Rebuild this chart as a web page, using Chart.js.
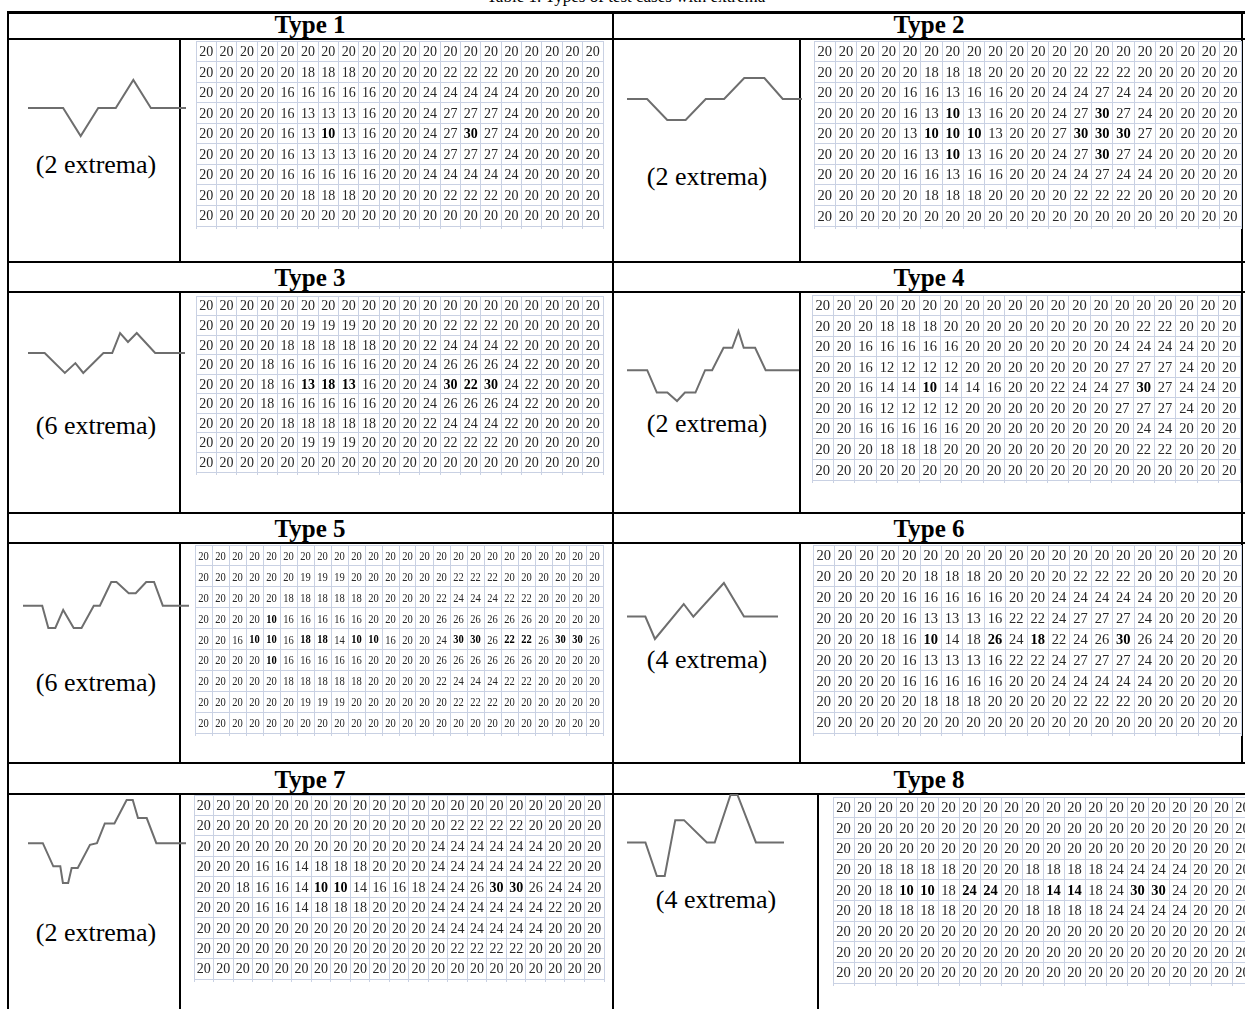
<!DOCTYPE html>
<html>
<head>
<meta charset="utf-8">
<title>Types of test cases</title>
<script src="https://cdn.jsdelivr.net/npm/chart.js@4.4.1/dist/chart.umd.min.js"></script>
<style>
    html, body { margin: 0; padding: 0; background: #fff; }
    body { position: relative; width: 1245px; height: 1009px; overflow: hidden; font-family: "Liberation Serif", "Times New Roman", serif; color: #000; }
    .rule { position: absolute; background: #000; }
    .box { position: absolute; }
    .box canvas { position: absolute; left: 0; top: 0; }
    .head { position: absolute; font-weight: bold; font-size: 25px; line-height: 28px; white-space: nowrap; transform: translate(-50%, -50%); }
    .extrema { position: absolute; font-size: 26px; line-height: 30px; white-space: nowrap; transform: translate(-50%, -50%); }
    .caption { position: absolute; top: -13px; left: 626px; font-size: 17px; white-space: nowrap; transform: translateX(-50%); }
</style>
</head>
<body>
<div class="caption">Table 1. Types of test cases with extrema</div>
<script>
const SERIF = '"Liberation Serif", "Times New Roman", serif';
const GRID = "#c9d1e3";

const typeNames = ["Type 1", "Type 2", "Type 3", "Type 4", "Type 5", "Type 6", "Type 7", "Type 8"];
const extremaLabels = ["(2 extrema)", "(2 extrema)", "(6 extrema)", "(2 extrema)", "(6 extrema)", "(4 extrema)", "(2 extrema)", "(4 extrema)"];

// Type 1
const t1r0 = [20, 20, 20, 20, 20, 20, 20, 20, 20, 20, 20, 20, 20, 20, 20, 20, 20, 20, 20, 20];
const t1r1 = [20, 20, 20, 20, 20, 18, 18, 18, 20, 20, 20, 20, 22, 22, 22, 20, 20, 20, 20, 20];
const t1r2 = [20, 20, 20, 20, 16, 16, 16, 16, 16, 20, 20, 24, 24, 24, 24, 24, 20, 20, 20, 20];
const t1r3 = [20, 20, 20, 20, 16, 13, 13, 13, 16, 20, 20, 24, 27, 27, 27, 24, 20, 20, 20, 20];
const t1r4 = [20, 20, 20, 20, 16, 13, 10, 13, 16, 20, 20, 24, 27, 30, 27, 24, 20, 20, 20, 20];
const bold1 = [[4, 6], [4, 13]];

// Type 2
const t2r0 = [20, 20, 20, 20, 20, 20, 20, 20, 20, 20, 20, 20, 20, 20, 20, 20, 20, 20, 20, 20];
const t2r1 = [20, 20, 20, 20, 20, 18, 18, 18, 20, 20, 20, 20, 22, 22, 22, 20, 20, 20, 20, 20];
const t2r2 = [20, 20, 20, 20, 16, 16, 13, 16, 16, 20, 20, 24, 24, 27, 24, 24, 20, 20, 20, 20];
const t2r3 = [20, 20, 20, 20, 16, 13, 10, 13, 16, 20, 20, 24, 27, 30, 27, 24, 20, 20, 20, 20];
const t2r4 = [20, 20, 20, 20, 13, 10, 10, 10, 13, 20, 20, 27, 30, 30, 30, 27, 20, 20, 20, 20];
const bold2 = [[3, 6], [3, 13], [4, 5], [4, 6], [4, 7], [4, 12], [4, 13], [4, 14], [5, 6], [5, 13]];

// Type 3
const t3r0 = [20, 20, 20, 20, 20, 20, 20, 20, 20, 20, 20, 20, 20, 20, 20, 20, 20, 20, 20, 20];
const t3r1 = [20, 20, 20, 20, 20, 19, 19, 19, 20, 20, 20, 20, 22, 22, 22, 20, 20, 20, 20, 20];
const t3r2 = [20, 20, 20, 20, 18, 18, 18, 18, 18, 20, 20, 22, 24, 24, 24, 22, 20, 20, 20, 20];
const t3r3 = [20, 20, 20, 18, 16, 16, 16, 16, 16, 20, 20, 24, 26, 26, 26, 24, 22, 20, 20, 20];
const t3r4 = [20, 20, 20, 18, 16, 13, 18, 13, 16, 20, 20, 24, 30, 22, 30, 24, 22, 20, 20, 20];
const bold3 = [[4, 5], [4, 6], [4, 7], [4, 12], [4, 13], [4, 14]];

// Type 4
const t4r0 = [20, 20, 20, 20, 20, 20, 20, 20, 20, 20, 20, 20, 20, 20, 20, 20, 20, 20, 20, 20];
const t4r1 = [20, 20, 20, 18, 18, 18, 20, 20, 20, 20, 20, 20, 20, 20, 20, 22, 22, 20, 20, 20];
const t4r2 = [20, 20, 16, 16, 16, 16, 16, 20, 20, 20, 20, 20, 20, 20, 24, 24, 24, 24, 20, 20];
const t4r3 = [20, 20, 16, 12, 12, 12, 12, 20, 20, 20, 20, 20, 20, 20, 27, 27, 27, 24, 20, 20];
const t4r4 = [20, 20, 16, 14, 14, 10, 14, 14, 16, 20, 20, 22, 24, 24, 27, 30, 27, 24, 24, 20];
const t4r6 = [20, 20, 16, 16, 16, 16, 16, 20, 20, 20, 20, 20, 20, 20, 20, 24, 24, 20, 20, 20];
const bold4 = [[4, 5], [4, 15]];

// Type 5
const t5r0 = [20, 20, 20, 20, 20, 20, 20, 20, 20, 20, 20, 20, 20, 20, 20, 20, 20, 20, 20, 20, 20, 20, 20, 20];
const t5r1 = [20, 20, 20, 20, 20, 20, 19, 19, 19, 20, 20, 20, 20, 20, 20, 22, 22, 22, 20, 20, 20, 20, 20, 20];
const t5r2 = [20, 20, 20, 20, 20, 18, 18, 18, 18, 18, 20, 20, 20, 20, 22, 24, 24, 24, 22, 22, 20, 20, 20, 20];
const t5r3 = [20, 20, 20, 20, 10, 16, 16, 16, 16, 16, 20, 20, 20, 20, 26, 26, 26, 26, 26, 26, 20, 20, 20, 20];
const t5r4 = [20, 20, 16, 10, 10, 16, 18, 18, 14, 10, 10, 16, 20, 20, 24, 30, 30, 26, 22, 22, 26, 30, 30, 26];
const bold5 = [[3, 4], [4, 3], [4, 4], [4, 6], [4, 7], [4, 9], [4, 10], [4, 15], [4, 16], [4, 18], [4, 19], [4, 21], [4, 22], [5, 4]];

// Type 6
const t6r0 = [20, 20, 20, 20, 20, 20, 20, 20, 20, 20, 20, 20, 20, 20, 20, 20, 20, 20, 20, 20];
const t6r1 = [20, 20, 20, 20, 20, 18, 18, 18, 20, 20, 20, 20, 22, 22, 22, 20, 20, 20, 20, 20];
const t6r2 = [20, 20, 20, 20, 16, 16, 16, 16, 16, 20, 20, 24, 24, 24, 24, 24, 20, 20, 20, 20];
const t6r3 = [20, 20, 20, 20, 16, 13, 13, 13, 16, 22, 22, 24, 27, 27, 27, 24, 20, 20, 20, 20];
const t6r4 = [20, 20, 20, 18, 16, 10, 14, 18, 26, 24, 18, 22, 24, 26, 30, 26, 24, 20, 20, 20];
const bold6 = [[4, 5], [4, 8], [4, 10], [4, 14]];

// Type 7
const t7r0 = [20, 20, 20, 20, 20, 20, 20, 20, 20, 20, 20, 20, 20, 20, 20, 20, 20, 20, 20, 20, 20];
const t7r1 = [20, 20, 20, 20, 20, 20, 20, 20, 20, 20, 20, 20, 20, 22, 22, 22, 22, 20, 20, 20, 20];
const t7r2 = [20, 20, 20, 20, 20, 20, 20, 20, 20, 20, 20, 20, 24, 24, 24, 24, 24, 24, 20, 20, 20];
const t7r3 = [20, 20, 20, 16, 16, 14, 18, 18, 18, 20, 20, 20, 24, 24, 24, 24, 24, 24, 22, 20, 20];
const t7r4 = [20, 20, 18, 16, 16, 14, 10, 10, 14, 16, 16, 18, 24, 24, 26, 30, 30, 26, 24, 24, 20];
const bold7 = [[4, 6], [4, 7], [4, 15], [4, 16]];

// Type 8
const t8r0 = [20, 20, 20, 20, 20, 20, 20, 20, 20, 20, 20, 20, 20, 20, 20, 20, 20, 20, 20, 20];
const t8r3 = [20, 20, 18, 18, 18, 18, 20, 20, 20, 18, 18, 18, 18, 24, 24, 24, 24, 20, 20, 20];
const t8r4 = [20, 20, 18, 10, 10, 18, 24, 24, 20, 18, 14, 14, 18, 24, 30, 30, 24, 20, 20, 20];
const bold8 = [[4, 3], [4, 4], [4, 6], [4, 7], [4, 10], [4, 11], [4, 14], [4, 15]];

const grids = [
    [t1r0, t1r1, t1r2, t1r3, t1r4, t1r3, t1r2, t1r1, t1r0],
    [t2r0, t2r1, t2r2, t2r3, t2r4, t2r3, t2r2, t2r1, t2r0],
    [t3r0, t3r1, t3r2, t3r3, t3r4, t3r3, t3r2, t3r1, t3r0],
    [t4r0, t4r1, t4r2, t4r3, t4r4, t4r3, t4r6, t4r1, t4r0],
    [t5r0, t5r1, t5r2, t5r3, t5r4, t5r3, t5r2, t5r1, t5r0],
    [t6r0, t6r1, t6r2, t6r3, t6r4, t6r3, t6r2, t6r1, t6r0],
    [t7r0, t7r1, t7r2, t7r3, t7r4, t7r3, t7r2, t7r1, t7r0],
    [t8r0, t8r0, t8r0, t8r3, t8r4, t8r3, t8r0, t8r0, t8r0]
];
const bolds = [bold1, bold2, bold3, bold4, bold5, bold6, bold7, bold8];

// profile sketches (x in steps, y in value units, 20 = flat level)
const sketch1X = [0, 4, 6, 8, 10, 12, 14, 18];
const sketch1Y = [20, 20, 10, 20, 20, 30, 20, 20];
const sketch2X = [0, 2.3, 4.6, 6.7, 9, 11.1, 13.4, 15.7, 17.8, 20];
const sketch2Y = [20, 20, 12.5, 12.5, 20, 20, 27.5, 27.5, 20, 20];
const sketch3X = [0, 1.9, 4.2, 5.4, 6.3, 8.6, 9.6, 10.5, 11.4, 12.4, 14.5, 17.9];
const sketch3Y = [20, 20, 12.9, 16.4, 12.9, 20, 20, 27.1, 23.9, 27.1, 20, 20];
const sketch4X = [0, 2.3, 3.4, 4.6, 5.7, 6.6, 7.8, 8.9, 9.7, 11, 12, 12.7, 13.3, 14.6, 15.8, 19.6];
const sketch4Y = [20, 20, 12, 12, 9, 12, 12, 20, 20, 28, 28, 34, 28, 28, 20, 20];
const sketch5X = [0, 2.2, 2.9, 3.7, 4.6, 5.8, 6.7, 8.1, 8.8, 10.1, 10.7, 12.1, 12.9, 14.1, 15, 16, 19];
const sketch5Y = [20, 20, 12, 12, 18.5, 12, 12, 20, 20, 28.5, 28.5, 24.5, 24.5, 28.5, 28.5, 20, 20];
const sketch6X = [0, 2.1, 3.2, 6.5, 7.6, 11.1, 13.4, 17.3];
const sketch6Y = [20, 20, 12, 24.5, 20, 32, 20, 20];
const sketch7X = [0, 1.7, 2.9, 3.7, 4, 4.6, 5, 5.7, 7.1, 7.9, 8.8, 9.9, 11.3, 12, 12.6, 13.6, 14.7, 18.1];
const sketch7Y = [20, 20, 11.7, 11.7, 5.7, 5.7, 11.1, 11.1, 19.4, 20, 27.1, 27.1, 35.5, 35.5, 29, 29, 20, 20];
const sketch8X = [0, 2.1, 3.4, 4.3, 5.5, 6.5, 9.1, 10, 11.8, 12.6, 14.7, 17.9];
const sketch8Y = [20, 20, 8, 8, 28, 28, 20, 20, 37, 37, 20, 20];

const sketchX = [sketch1X, sketch2X, sketch3X, sketch4X, sketch5X, sketch6X, sketch7X, sketch8X];
const sketchY = [sketch1Y, sketch2Y, sketch3Y, sketch4Y, sketch5Y, sketch6Y, sketch7Y, sketch8Y];

// ---- layout (pixels) ----
const SX = 8.75, SY = 2.8;
const gridBoxes = [
    { left: 196, top: 41, width: 407, height: 185, font: 14, squeeze: 1 },
    { left: 814, top: 41, width: 427, height: 185, font: 14.5, squeeze: 1 },
    { left: 196, top: 296, width: 407, height: 176, font: 14, squeeze: 1 },
    { left: 812, top: 295, width: 428, height: 185, font: 14.5, squeeze: 1 },
    { left: 195, top: 545, width: 408, height: 188, font: 13.5, squeeze: 0.78 },
    { left: 813, top: 545, width: 428, height: 188, font: 14.5, squeeze: 1 },
    { left: 194, top: 795, width: 410, height: 184, font: 14, squeeze: 1 },
    { left: 833, top: 797, width: 420, height: 186, font: 14.5, squeeze: 1 }
];
const sketchOrigins = [
    { x: 28, y: 108 }, { x: 627, y: 99 },
    { x: 28, y: 353 }, { x: 627, y: 370 },
    { x: 23, y: 606 }, { x: 627, y: 617 },
    { x: 28, y: 843 }, { x: 627, y: 843 }
];
const labelCenters = [
    { x: 96, y: 165 }, { x: 707, y: 177 },
    { x: 96, y: 426 }, { x: 707, y: 424 },
    { x: 96, y: 683 }, { x: 707, y: 660 },
    { x: 96, y: 933 }, { x: 716, y: 900 }
];
const headCenters = [
    { x: 310, y: 25 }, { x: 929, y: 25 },
    { x: 310, y: 278 }, { x: 929, y: 278 },
    { x: 310, y: 529 }, { x: 929, y: 529 },
    { x: 310, y: 780 }, { x: 929, y: 780 }
];

function rule(x, y, w, h) {
    const d = document.createElement("div");
    d.className = "rule";
    d.style.left = x + "px";
    d.style.top = y + "px";
    d.style.width = w + "px";
    d.style.height = h + "px";
    document.body.appendChild(d);
}

function makeCanvas(left, top, width, height) {
    const d = document.createElement("div");
    d.className = "box";
    d.style.left = left + "px";
    d.style.top = top + "px";
    d.style.width = width + "px";
    d.style.height = height + "px";
    const c = document.createElement("canvas");
    c.width = width;
    c.height = height;
    d.appendChild(c);
    document.body.appendChild(d);
    return c;
}

function addText(cls, text, pos) {
    const d = document.createElement("div");
    d.className = cls;
    d.textContent = text;
    d.style.left = pos.x + "px";
    d.style.top = pos.y + "px";
    document.body.appendChild(d);
}

// table rules
rule(8, 11, 1240, 3);
rule(7, 11, 2, 1000);
rule(612, 11, 2, 1000);
rule(1241, 11, 2, 753);
[39, 262, 292, 513, 543, 763, 794].forEach(function (y) { rule(8, y - 1, 1240, 2); });
[[39, 262], [292, 513], [543, 763], [794, 1009]].forEach(function (r) { rule(179, r[0], 2, r[1] - r[0]); });
[[39, 262], [292, 513], [543, 763]].forEach(function (r) { rule(799, r[0], 2, r[1] - r[0]); });
rule(817, 794, 2, 215);

const cellText = {
    id: "cellText",
    afterDatasetsDraw: function (chart, args, opts) {
        const ctx = chart.ctx;
        const data = chart.data.datasets[0].data;
        ctx.save();
        ctx.textAlign = "center";
        ctx.textBaseline = "middle";
        chart.getDatasetMeta(0).data.forEach(function (pt, i) {
            const cell = data[i];
            ctx.font = (cell.b ? "bold " : "") + opts.size + "px " + SERIF;
            ctx.fillStyle = cell.b ? "#000" : "#262626";
            ctx.save();
            ctx.translate(pt.x, pt.y + 1);
            ctx.scale(opts.squeeze, 1);
            ctx.fillText(String(cell.v), 0, 0);
            ctx.restore();
        });
        ctx.restore();
    }
};

function drawGrid(n) {
    const rows = grids[n], bold = bolds[n], box = gridBoxes[n];
    const nCols = rows[0].length, nRows = rows.length;
    const cells = [];
    rows.forEach(function (row, r) {
        row.forEach(function (v, c) {
            cells.push({
                x: c + 0.5, y: r + 0.5, v: v,
                b: bold.some(function (p) { return p[0] === r && p[1] === c; })
            });
        });
    });
    const canvas = makeCanvas(box.left - 1, box.top - 1, box.width + 2, box.height + 4);
    new Chart(canvas.getContext("2d"), {
        type: "scatter",
        data: { datasets: [{ data: cells, pointRadius: 0, pointHoverRadius: 0 }] },
        options: {
            responsive: false,
            animation: false,
            events: [],
            layout: { padding: { top: 1, right: 1, left: 1, bottom: 0 } },
            plugins: {
                legend: { display: false },
                tooltip: { enabled: false },
                cellText: { size: box.font, squeeze: box.squeeze }
            },
            scales: {
                x: {
                    type: "linear", min: 0, max: nCols,
                    ticks: { display: false, stepSize: 1, autoSkip: false, maxTicksLimit: 100 },
                    grid: { color: GRID, tickLength: 3 },
                    border: { color: GRID }
                },
                y: {
                    type: "linear", reverse: true, min: 0, max: nRows,
                    ticks: { display: false, stepSize: 1, autoSkip: false, maxTicksLimit: 100 },
                    grid: { color: GRID, drawTicks: false },
                    border: { color: GRID }
                }
            }
        },
        plugins: [cellText]
    });
}

function drawSketch(n) {
    const xs = sketchX[n], ys = sketchY[n], o = sketchOrigins[n];
    const pad = 6;
    const xMax = Math.max.apply(null, xs), yMin = Math.min.apply(null, ys), yMax = Math.max.apply(null, ys);
    const width = Math.round(xMax * SX + 2 * pad);
    const height = Math.round((yMax - yMin) * SY + 2 * pad);
    const left = Math.round(o.x - pad);
    const top = Math.round(o.y - (yMax - 20) * SY - pad);
    const canvas = makeCanvas(left, top, width, height);
    new Chart(canvas.getContext("2d"), {
        type: "line",
        data: {
            datasets: [{
                data: xs.map(function (x, i) { return { x: x, y: ys[i] }; }),
                borderColor: "#6e6e6e",
                borderWidth: 2,
                pointRadius: 0,
                tension: 0,
                fill: false
            }]
        },
        options: {
            responsive: false,
            animation: false,
            events: [],
            layout: { padding: 0 },
            plugins: { legend: { display: false }, tooltip: { enabled: false } },
            scales: {
                x: { type: "linear", display: false, min: -pad / SX, max: xMax + pad / SX },
                y: { type: "linear", display: false, min: yMin - pad / SY, max: yMax + pad / SY }
            }
        }
    });
}

for (let n = 0; n < 8; n++) {
    addText("head", typeNames[n], headCenters[n]);
    addText("extrema", extremaLabels[n], labelCenters[n]);
    drawGrid(n);
    drawSketch(n);
}
</script>
</body>
</html>
